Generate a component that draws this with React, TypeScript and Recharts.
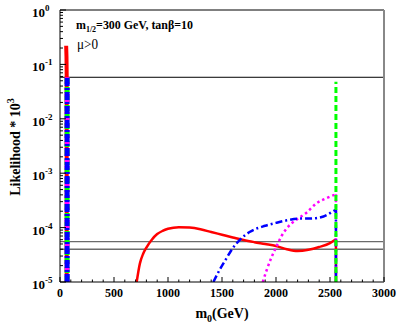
import { Line, LineChart, ReferenceLine, XAxis, YAxis } from "recharts";

const FONT = '"Liberation Serif", "Times New Roman", serif';

// tick values
const xMajorTicks = [0, 500, 1000, 1500, 2000, 2500, 3000];
const xMinorTicks = [100, 200, 300, 400, 600, 700, 800, 900, 1100, 1200, 1300, 1400, 1600, 1700, 1800, 1900, 2100, 2200, 2300, 2400, 2600, 2700, 2800, 2900];
const yMajorTicks = [1e-5, 1e-4, 1e-3, 1e-2, 1e-1, 1];
const yMinorTicks = yMajorTicks.slice(0, -1).flatMap((d) => [2, 3, 4, 5, 6, 7, 8, 9].map((m) => m * d));
const xTicks = [...xMajorTicks, ...xMinorTicks].sort((a, b) => a - b);
const yTicks = [...yMajorTicks, ...yMinorTicks].sort((a, b) => a - b);

// horizontal reference levels
const blackLevels = [0.058];
const greyLevels = [5.5e-5, 4.0e-5];

// spikes at low m0
const redSpike = [
  { x: 62, y: 1e-5 },
  { x: 62, y: 0.06 },
  { x: 60, y: 0.14 },
  { x: 57, y: 0.22 },
];
const bandSpike = [
  { x: 66, y: 1e-5 },
  { x: 66, y: 0.058 },
];

// red (solid)
const redCurve = [
  { x: 710, y: 1e-5 },
  { x: 740, y: 2.2e-5 },
  { x: 770, y: 3.3e-5 },
  { x: 800, y: 4.3e-5 },
  { x: 850, y: 6.0e-5 },
  { x: 900, y: 7.6e-5 },
  { x: 950, y: 8.7e-5 },
  { x: 1000, y: 9.5e-5 },
  { x: 1100, y: 1.02e-4 },
  { x: 1200, y: 1.0e-4 },
  { x: 1300, y: 9.3e-5 },
  { x: 1400, y: 8.3e-5 },
  { x: 1500, y: 7.4e-5 },
  { x: 1600, y: 6.6e-5 },
  { x: 1700, y: 5.9e-5 },
  { x: 1800, y: 5.4e-5 },
  { x: 1900, y: 5.0e-5 },
  { x: 2000, y: 4.6e-5 },
  { x: 2100, y: 4.0e-5 },
  { x: 2200, y: 3.7e-5 },
  { x: 2300, y: 3.9e-5 },
  { x: 2400, y: 4.4e-5 },
  { x: 2500, y: 5.2e-5 },
  { x: 2555, y: 6.1e-5 },
];
const redDrop = [
  { x: 2555, y: 6.1e-5 },
  { x: 2555, y: 1e-5 },
];

// blue (dash-dot)
const blueCurve = [
  { x: 1420, y: 1e-5 },
  { x: 1480, y: 1.7e-5 },
  { x: 1540, y: 2.7e-5 },
  { x: 1600, y: 4.2e-5 },
  { x: 1670, y: 6.1e-5 },
  { x: 1760, y: 8.4e-5 },
  { x: 1900, y: 1.08e-4 },
  { x: 2000, y: 1.22e-4 },
  { x: 2100, y: 1.36e-4 },
  { x: 2200, y: 1.46e-4 },
  { x: 2320, y: 1.47e-4 },
  { x: 2440, y: 1.6e-4 },
  { x: 2530, y: 2.0e-4 },
  { x: 2555, y: 2.15e-4 },
];
const blueDrop = [
  { x: 2555, y: 2.15e-4 },
  { x: 2555, y: 1e-5 },
];

// magenta (dotted)
const magentaCurve = [
  { x: 1877, y: 1e-5 },
  { x: 1914, y: 1.66e-5 },
  { x: 1960, y: 2.9e-5 },
  { x: 2000, y: 4.3e-5 },
  { x: 2050, y: 6.9e-5 },
  { x: 2100, y: 9.7e-5 },
  { x: 2190, y: 1.4e-4 },
  { x: 2285, y: 1.9e-4 },
  { x: 2375, y: 2.8e-4 },
  { x: 2470, y: 3.5e-4 },
  { x: 2555, y: 4.1e-4 },
];
const magentaDrop = [
  { x: 2555, y: 4.1e-4 },
  { x: 2555, y: 1e-5 },
];

// green (dashed)
const greenDrop = [
  { x: 2555, y: 1e-5 },
  { x: 2555, y: 0.048 },
];

const isMajorY = (v: number) => Math.abs(Math.log10(v) - Math.round(Math.log10(v))) < 1e-6;
const isMajorX = (v: number) => v % 500 === 0;

function LeftTick({ x, y, payload }: any) {
  const v = payload.value;
  const major = isMajorY(v);
  return (
    <g>
      <line x1={x} x2={x + (major ? 6 : 3)} y1={y} y2={y} stroke="#000" />
      {major && (
        <text x={x - 28} y={y + 7} fontFamily={FONT} fontWeight="bold" fontSize={13} fill="#000">
          10
          <tspan dy={-6} fontSize={9}>
            {Math.round(Math.log10(v))}
          </tspan>
        </text>
      )}
    </g>
  );
}

function RightTick({ x, y, payload }: any) {
  const major = isMajorY(payload.value);
  return <line x1={x} x2={x - (major ? 6 : 3)} y1={y} y2={y} stroke="#000" />;
}

function BottomTick({ x, y, payload }: any) {
  const v = payload.value;
  const major = isMajorX(v);
  return (
    <g>
      <line x1={x} x2={x} y1={y} y2={y - (major ? 5 : 2.5)} stroke="#000" />
      {major && (
        <text x={x} y={y + 15} textAnchor="middle" fontFamily={FONT} fontWeight="bold" fontSize={12} fill="#000">
          {v}
        </text>
      )}
    </g>
  );
}

function TopTick({ x, y, payload }: any) {
  const major = isMajorX(payload.value);
  return <line x1={x} x2={x} y1={y} y2={y + (major ? 5 : 2.5)} stroke="#000" />;
}

export default function App() {
  const common = { dataKey: "y", dot: false, isAnimationActive: false, legendType: "none" as const };
  return (
    <div style={{ position: "absolute", left: 0, top: 0, width: 397, height: 327, background: "#fff" }}>
      <LineChart width={397} height={327} margin={{ top: 9, right: 12, bottom: 0, left: 0 }}>
        <XAxis
          dataKey="x"
          type="number"
          domain={[0, 3000]}
          ticks={xTicks}
          interval={0}
          height={45}
          tickSize={0}
          tickMargin={0}
          tick={BottomTick}
          axisLine={{ stroke: "#000" }}
          allowDataOverflow
        />
        <XAxis
          xAxisId="top"
          orientation="top"
          dataKey="x"
          type="number"
          domain={[0, 3000]}
          ticks={xTicks}
          interval={0}
          height={1}
          tickSize={0}
          tickMargin={0}
          tick={TopTick}
          axisLine={{ stroke: "#000" }}
        />
        <YAxis
          type="number"
          scale="log"
          domain={[1e-5, 1]}
          ticks={yTicks}
          interval={0}
          width={60}
          tickSize={0}
          tickMargin={0}
          tick={LeftTick}
          axisLine={{ stroke: "#000" }}
          allowDataOverflow
        />
        <YAxis
          yAxisId="right"
          orientation="right"
          type="number"
          scale="log"
          domain={[1e-5, 1]}
          ticks={yTicks}
          interval={0}
          width={1}
          tickSize={0}
          tickMargin={0}
          tick={RightTick}
          axisLine={{ stroke: "#888", strokeWidth: 2 }}
        />

        {blackLevels.map((v) => (
          <ReferenceLine key={v} y={v} stroke="#000" strokeWidth={1} />
        ))}
        {greyLevels.map((v) => (
          <ReferenceLine key={v} y={v} stroke="#6b6b6b" strokeWidth={1.3} />
        ))}

        <Line {...common} data={redSpike} type="linear" stroke="#ff0000" strokeWidth={4} />
        <Line {...common} data={bandSpike} type="linear" stroke="#00ff00" strokeWidth={5} strokeDasharray="6 3" />
        <Line {...common} data={bandSpike} type="linear" stroke="#ff00ff" strokeWidth={5} strokeDasharray="2 4" />
        <Line {...common} data={bandSpike} type="linear" stroke="#0000ff" strokeWidth={5} strokeDasharray="8 2 2 2" />

        <Line {...common} data={redCurve} type="monotone" stroke="#ff0000" strokeWidth={2.5} />
        <Line {...common} data={redDrop} type="linear" stroke="#ff0000" strokeWidth={2.5} />
        <Line {...common} data={magentaCurve} type="monotone" stroke="#ff00ff" strokeWidth={2.5} strokeDasharray="2.5 3" />
        <Line {...common} data={magentaDrop} type="linear" stroke="#ff00ff" strokeWidth={2.5} strokeDasharray="2.5 3" />
        <Line {...common} data={blueCurve} type="monotone" stroke="#0000ff" strokeWidth={2.5} strokeDasharray="7 3 2 3" />
        <Line {...common} data={blueDrop} type="linear" stroke="#0000ff" strokeWidth={2.5} strokeDasharray="7 3 2 3" />
        <Line {...common} data={greenDrop} type="linear" stroke="#00ff00" strokeWidth={3} strokeDasharray="6 3" />
      </LineChart>

      <svg width={397} height={327} style={{ position: "absolute", left: 0, top: 0, pointerEvents: "none" }}>
        <text
          x={76}
          y={29}
          fontFamily={FONT}
          fontWeight="bold"
          fontSize={12}
          fill="#000"
          textLength={117}
          lengthAdjust="spacingAndGlyphs"
        >
          m<tspan dy={3} fontSize={8}>1/2</tspan>
          <tspan dy={-3}>=300 GeV, tanβ=10</tspan>
        </text>
        <text x={77} y={49} fontFamily={FONT} fontSize={14} fill="#000" textLength={21} lengthAdjust="spacingAndGlyphs">
          μ&gt;0
        </text>
        <text x={222} y={318} textAnchor="middle" fontFamily={FONT} fontWeight="bold" fontSize={14} fill="#000">
          m<tspan dy={4} fontSize={10}>0</tspan>
          <tspan dy={-4}>(GeV)</tspan>
        </text>
        <text
          x={20}
          y={147}
          textAnchor="middle"
          transform="rotate(-90 20 147)"
          fontFamily={FONT}
          fontWeight="bold"
          fontSize={14}
          fill="#000"
        >
          Likelihood * 10<tspan dy={-6} fontSize={10}>3</tspan>
        </text>
      </svg>
    </div>
  );
}
